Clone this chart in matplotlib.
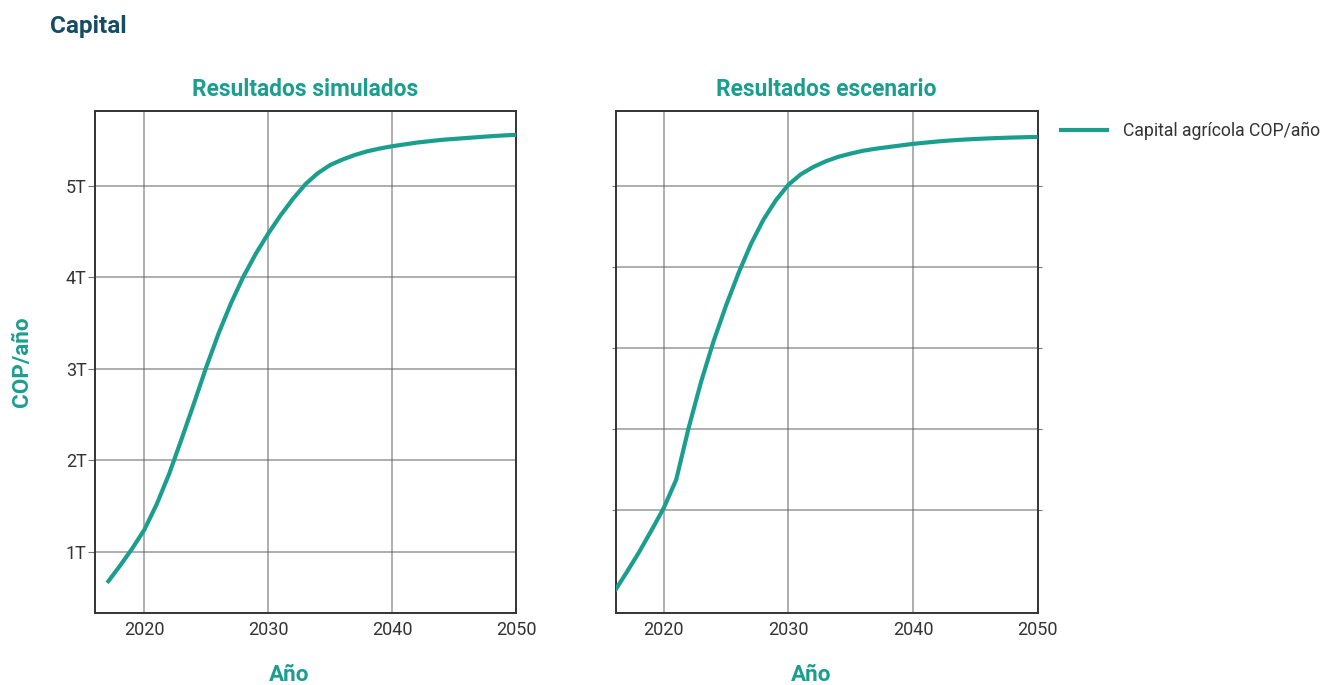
import numpy as np
import matplotlib.pyplot as plt

plt.rcParams['font.family'] = ['Roboto', 'DejaVu Sans']

# datos (billones de COP/año)
anios_sim = list(range(2017, 2051))
capital_sim = [0.66, 0.84, 1.03, 1.24, 1.52, 1.85, 2.23, 2.62, 3.02, 3.39,
               3.72, 4.01, 4.26, 4.48, 4.68, 4.86, 5.02, 5.14, 5.23, 5.29,
               5.34, 5.38, 5.41, 5.435, 5.455, 5.475, 5.49, 5.505, 5.515, 5.525,
               5.535, 5.545, 5.553, 5.56]

anios_esc = list(range(2016, 2051))
capital_esc = [-0.02, 0.22, 0.47, 0.74, 1.02, 1.37, 2.01, 2.58, 3.08, 3.52,
               3.92, 4.28, 4.58, 4.82, 5.01, 5.14, 5.23, 5.30, 5.355, 5.395,
               5.43, 5.455, 5.475, 5.495, 5.515, 5.53, 5.545, 5.557, 5.567, 5.575,
               5.582, 5.588, 5.593, 5.597, 5.60]

ticks_x = [2020, 2030, 2040, 2050]
ticks_y = [1, 2, 3, 4, 5]
etiquetas_y = ['1T', '2T', '3T', '4T', '5T']

TEAL = '#1c9e8f'
NAVY = '#164c64'
GRIS = '#333333'

fig = plt.figure(figsize=(13.27, 6.85), dpi=100)
ax1 = fig.add_axes([0.0714, 0.1051, 0.3175, 0.7328])
ax2 = fig.add_axes([0.4640, 0.1051, 0.3180, 0.7328])

paneles = [
    (ax1, anios_sim, capital_sim, 'Resultados simulados', (2016.0, 2050), (0.33, 5.82)),
    (ax2, anios_esc, capital_esc, 'Resultados escenario', (2016.15, 2050), (-0.275, 5.92)),
]

for ax, x, y, titulo, xlim, ylim in paneles:
    linea, = ax.plot(x, y, color=TEAL, lw=3.0, solid_capstyle='butt',
                     solid_joinstyle='round', label='Capital agrícola COP/año', zorder=3)
    ax.set_xlim(*xlim)
    ax.set_ylim(*ylim)
    ax.set_xticks(ticks_x)
    ax.set_yticks(ticks_y)
    ax.grid(True, color='#555555', alpha=0.6, lw=1.1)
    for s in ax.spines.values():
        s.set_color(GRIS)
        s.set_linewidth(1.4)
    ax.tick_params(axis='x', length=0, pad=6, labelsize=13, labelcolor=GRIS)
    ax.tick_params(axis='y', length=5, color='#777777', labelsize=13, labelcolor=GRIS, pad=1)
    ax.set_title(titulo, color=TEAL, fontsize=16.4, fontweight='bold', pad=11)
    ax.set_xlabel('Año', color=TEAL, fontsize=16.2, fontweight='bold', va='center')
    ax.xaxis.set_label_coords(0.462, -0.124)

ax1.set_yticklabels(etiquetas_y)
ax1.set_ylabel('COP/año', color=TEAL, fontsize=16.2, fontweight='bold', va='center')
ax1.yaxis.set_label_coords(-0.172, 0.5)
ax2.tick_params(axis='y', labelleft=False, left=True, right=True, length=3)

fig.text(50 / 1327, 1 - 27 / 685, 'Capital', color=NAVY, fontsize=17.5,
         fontweight='bold', va='center', ha='left')

fig.legend(handles=[linea], loc='center left', bbox_to_anchor=(1059 / 1327, 1 - 131 / 685),
           frameon=False, fontsize=12.7, labelcolor=GRIS, handlelength=2.84,
           handletextpad=0.8, borderaxespad=0, borderpad=0)

fig.savefig('out.png', dpi=100)
